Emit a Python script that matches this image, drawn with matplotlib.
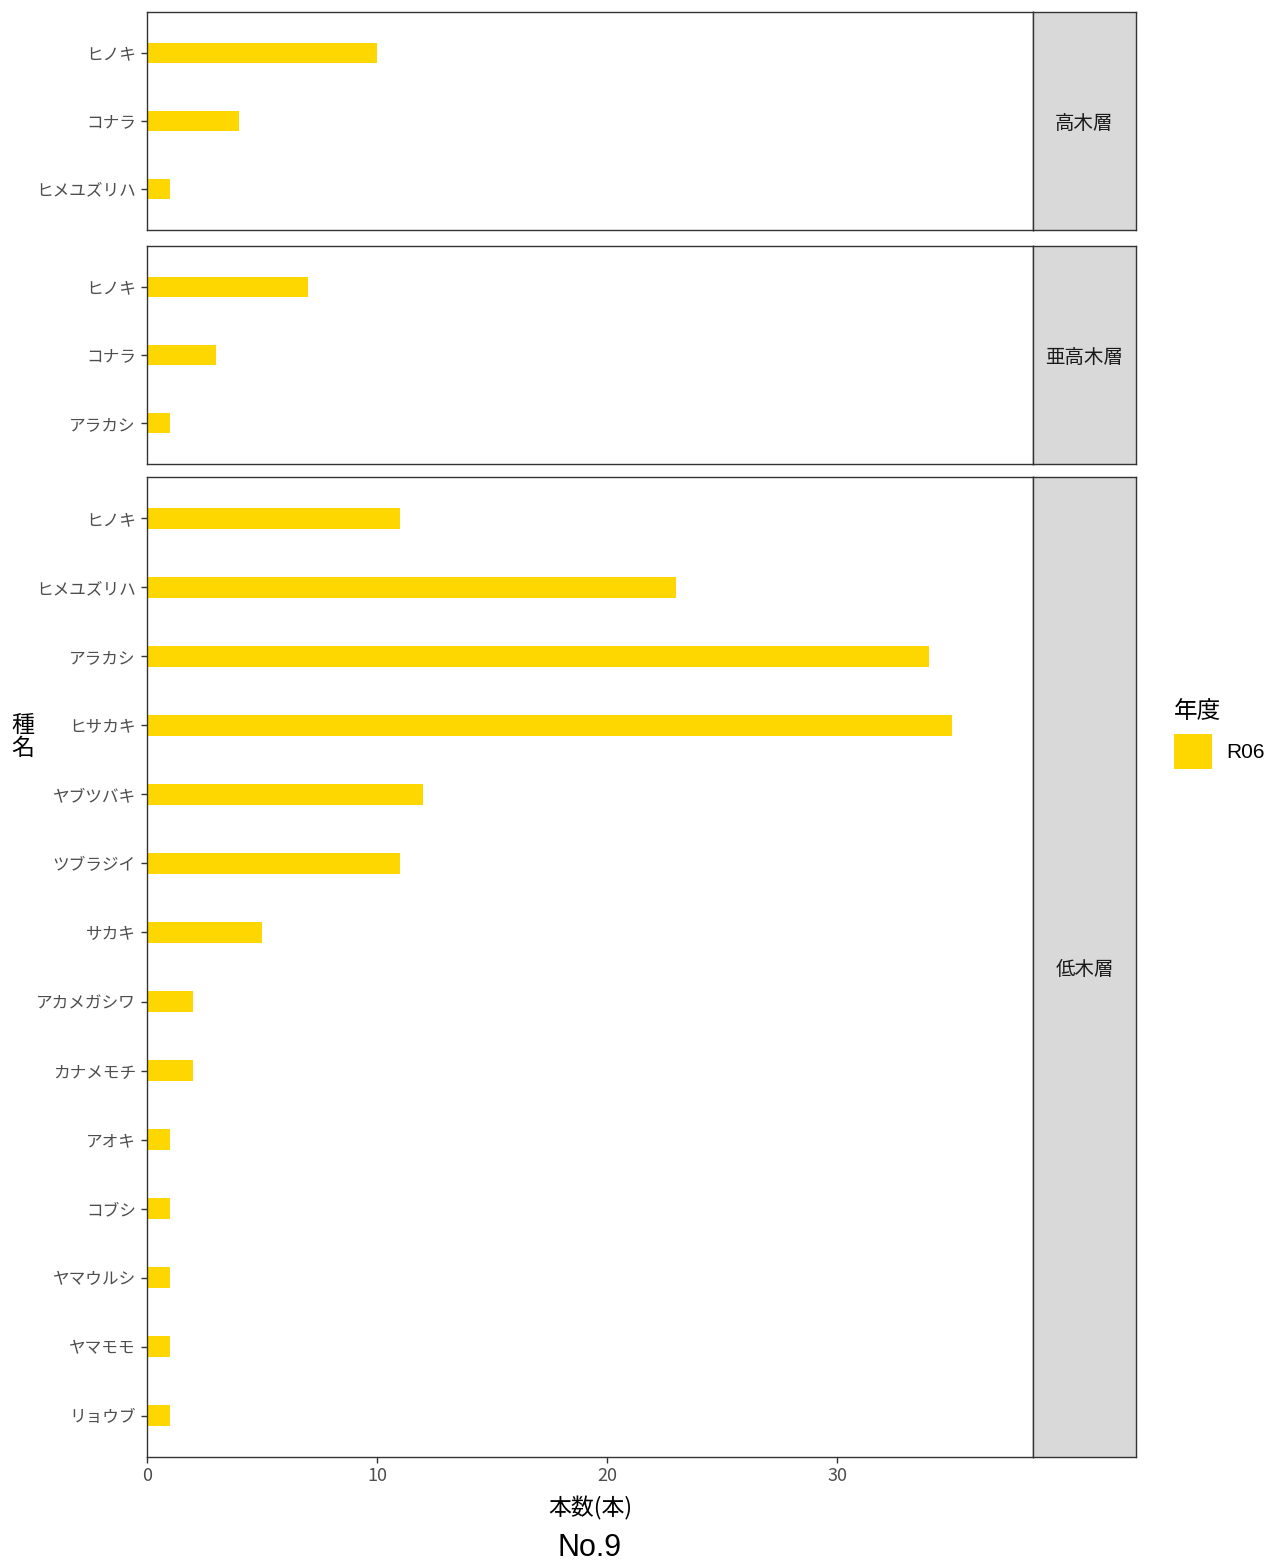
import matplotlib
matplotlib.use("Agg")
import matplotlib.pyplot as plt

plt.rcParams['font.family'] = ['Noto Sans CJK JP', 'DejaVu Sans']

# data: layer -> species (top to bottom) and counts
layers = ['高木層', '亜高木層', '低木層']
species_high = ['ヒノキ', 'コナラ', 'ヒメユズリハ']
counts_high = [10, 4, 1]
species_sub = ['ヒノキ', 'コナラ', 'アラカシ']
counts_sub = [7, 3, 1]
species_low = ['ヒノキ', 'ヒメユズリハ', 'アラカシ', 'ヒサカキ', 'ヤブツバキ', 'ツブラジイ',
               'サカキ', 'アカメガシワ', 'カナメモチ', 'アオキ', 'コブシ', 'ヤマウルシ',
               'ヤマモモ', 'リョウブ']
counts_low = [11, 23, 34, 35, 12, 11, 5, 2, 2, 1, 1, 1, 1, 1]
year_label = 'R06'
x_ticks = [0, 10, 20, 30]

W, H = 1275, 1567
fig = plt.figure(figsize=(W / 100, H / 100), dpi=100)

BAR = '#FFD700'
EDGE = '#333333'

def px_rect(x0, y0, x1, y1):
    return [x0 / W, (H - y1) / H, (x1 - x0) / W, (y1 - y0) / H]

panels = [
    (species_high, counts_high, 12, 230),
    (species_sub, counts_sub, 246, 464),
    (species_low, counts_low, 477, 1457),
]

bar_handle = None
for i, ((names, vals, top, bot), layer) in enumerate(zip(panels, layers)):
    ax = fig.add_axes(px_rect(147, top, 1033, bot))
    pos = list(range(len(names)))
    bars = ax.barh(pos, vals, height=0.3, color=BAR, label=year_label)
    if bar_handle is None:
        bar_handle = bars
    ax.set_ylim(len(names) - 1 + 0.6, -0.6)
    ax.set_xlim(0, 38.5)
    ax.set_yticks(pos)
    ax.set_yticklabels(names, fontsize=12, color='#4D4D4D')
    ax.tick_params(axis='y', length=4, width=1, color=EDGE, pad=4)
    for s in ax.spines.values():
        s.set_color(EDGE)
        s.set_linewidth(1.0)
    if i < 2:
        ax.set_xticks([])
    else:
        ax.set_xticks(x_ticks)
        ax.set_xticklabels([str(t) for t in x_ticks], fontsize=13, color='#4D4D4D')
        ax.tick_params(axis='x', length=4, width=1, color=EDGE, pad=3)

    sx = fig.add_axes(px_rect(1033, top, 1136, bot))
    sx.set_facecolor('#D9D9D9')
    sx.set_xticks([])
    sx.set_yticks([])
    for s in sx.spines.values():
        s.set_color(EDGE)
        s.set_linewidth(1.0)
    sx.text(0.5, 0.5, layer, ha='center', va='center_baseline', fontsize=14,
            color='#1A1A1A', transform=sx.transAxes)

# axis titles
fig.text(23 / W, 1 - 737 / H, '種\n名', ha='center', va='center', fontsize=16.5,
         linespacing=1.0)
fig.text(590 / W, 1 - 1508 / H, '本数(本)', ha='center', va='center', fontsize=16.5)
fig.text(590 / W, 1 - 1548 / H, 'No.9', ha='center', va='center', fontsize=22,
         family=['Liberation Sans', 'DejaVu Sans'])

leg = fig.legend(handles=[bar_handle], labels=[year_label], title='年度',
                 loc='upper left', bbox_to_anchor=(1166 / W, 1 - 692 / H),
                 frameon=False, fontsize=15, title_fontsize=17,
                 handlelength=1.8, handleheight=2.2, handletextpad=0.7,
                 alignment='left', borderaxespad=0)
for t in leg.get_texts():
    t.set_family(['Liberation Sans', 'DejaVu Sans'])

fig.savefig('out.png', dpi=100)
